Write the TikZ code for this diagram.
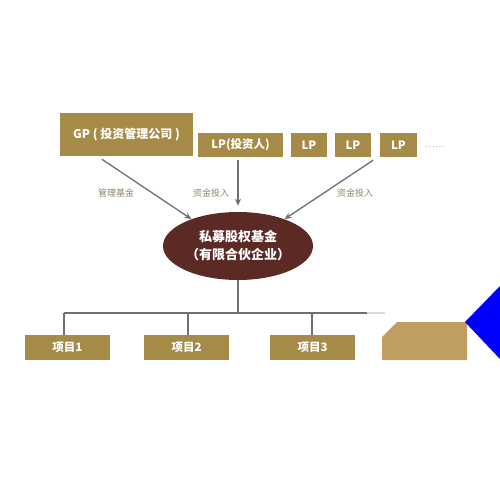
\documentclass[tikz,border=0pt]{standalone}
\usepackage{fontspec}
\setmainfont{Noto Sans CJK SC}
\usetikzlibrary{arrows.meta,shapes.geometric,calc}
\definecolor{gold}{RGB}{166,138,72}
\definecolor{goldlight}{RGB}{192,157,96}
\definecolor{fundbrown}{RGB}{92,42,36}
\definecolor{linegray}{RGB}{112,112,116}
\definecolor{labelcol}{RGB}{140,132,104}
\begin{document}
\begin{tikzpicture}[x=1pt,y=-1pt,
  box/.style={fill=gold,text=white,inner sep=0pt,font=\fontsize{11.5}{13}\selectfont\bfseries},
  lbl/.style={text=labelcol,inner sep=0pt,font=\fontsize{9}{11}\selectfont},
  conn/.style={draw=linegray,line width=1.3pt},
  arr/.style={conn,-{Stealth[length=7pt,width=6pt]}}]
\useasboundingbox (0,0) rectangle (500,500);
\fill[white] (0,0) rectangle (500,500);
% top boxes
\node[box,minimum width=133pt,minimum height=43pt,font=\fontsize{12}{14}\selectfont\bfseries] (gp) at (126.5,134.5) {GP ( 投资管理公司 )};
\node[box,minimum width=85pt,minimum height=24pt] (lp1) at (240.5,145) {LP(投资人)};
\node[box,minimum width=36pt,minimum height=24pt] (lp2) at (309,145) {LP};
\node[box,minimum width=36pt,minimum height=24pt] (lp3) at (353,145) {LP};
\node[box,minimum width=37pt,minimum height=24pt] (lp4) at (398.5,145) {LP};
\node[text=gray!60,inner sep=0pt,font=\fontsize{9}{11}\selectfont] (dots) at (435,147) {……};
% fund
\node[ellipse,fill=fundbrown,text=white,minimum width=150pt,minimum height=68pt,inner sep=0pt,
  align=center,font=\fontsize{13}{18}\selectfont\bfseries] (fund) at (238,246) {私募股权基金\\（有限合伙企业）};
% arrows
\draw[arr] ($(gp.south west)+(42,3)$) -- (fund.150);
\draw[arr,shorten <=3pt,shorten >=6pt] (lp1.south -| fund.north) -- (fund.north);
\draw[arr] ($(lp3.south east)+(2,3)$) -- (fund.30);
\node[lbl] (l1) at (116,193) {管理基金};
\node[lbl] (l2) at (211,193) {资金投入};
\node[lbl] (l3) at (355,193) {资金投入};
% projects
\node[box,minimum width=85pt,minimum height=25pt] (p1) at (67.5,347.5) {项目1};
\node[box,minimum width=85pt,minimum height=25pt] (p2) at (186.5,347.5) {项目2};
\node[box,minimum width=85pt,minimum height=25pt] (p3) at (312.5,347.5) {项目3};
\coordinate (j) at (238,313);
\coordinate (j1) at (64,313);
\coordinate (j2) at (188,313);
\coordinate (j3) at (312,313);
\coordinate (jend) at (367,313);
\coordinate (jfade) at (385,313);
\draw[conn] (fund.south) -- (j);
\draw[conn] (j1) -- (jend);
\draw[draw=linegray!25,line width=1.3pt] (jend) -- (jfade);
\draw[conn] (j1) -- (j1 |- p1.north);
\draw[conn] (j2) -- (j2 |- p2.north);
\draw[conn] (j3) -- (j3 |- p3.north);
% blurred fourth box
\fill[goldlight] (382,360) -- (382,337) -- (397,322) -- (467,322) -- (467,360) -- cycle;
% blue corner
\fill[blue] (465,322) -- (500,286) -- (500,359) -- cycle;
\end{tikzpicture}
\end{document}
